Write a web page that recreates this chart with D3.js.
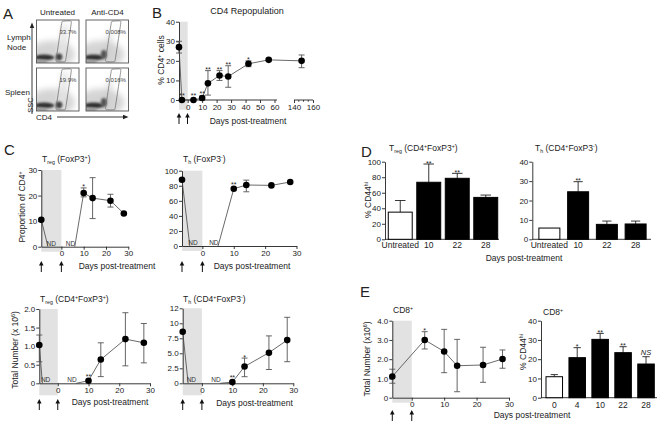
<!DOCTYPE html>
<html><head><meta charset="utf-8">
<script src="https://cdn.jsdelivr.net/npm/d3@7"></script>
<style>body{margin:0;background:#fff}svg{display:block}</style>
</head><body><svg id="c" width="661" height="424"></svg>
<script>
// ---------------- DATA ----------------
// Panel B: CD4 repopulation (% CD4+ cells)
const bDays = [-6, -4, 4, 10, 14, 22, 28, 42, 56, 148];
const bMean = [27, 0, 0, 1, 8.5, 12.5, 12, 18.5, 20.5, 20];
const bLo   = [24, 0, 0, 0, 2.5, 10, 6.5, 17, 20, 16.5];
const bHi   = [30, 0, 0, 2, 15, 15, 17.5, 20, 21, 23];
const bSig  = ["", "**", "**", "**", "**", "**", "**", "*", "", ""];
const bTicksA = [0, 10, 20, 30, 40, 50, 60];
const bTicksB = [140, 160];
const bYTicks = [0, 10, 20, 30, 40];

// Panel C: Treg proportion of CD4+
const cTregPDays = [-9, -6, 6, 10, 14, 22, 28];
const cTregPMean = [10.5, 0, 0, 21, 19, 18, 13];
const cTregPLo   = [10.5, 0, 0, 19.5, 11, 15.5, 13];
const cTregPHi   = [10.5, 0, 0, 23, 27, 20.5, 13];
const cTregPSig  = ["", "", "", "*", "", "", ""];
const cTregPND   = [false, true, true, false, false, false, false];
// Panel C: Th proportion of CD4+
const cThPDays = [-6.5, -4, 5, 10, 14, 22, 28];
const cThPMean = [88, 0, 0, 76, 81, 80.5, 85];
const cThPLo   = [88, 0, 0, 76, 72, 80.5, 85];
const cThPHi   = [88, 0, 0, 76, 87.5, 80.5, 85];
const cThPSig  = ["", "", "", "**", "", "", ""];
const cThPND   = [false, true, true, false, false, false, false];
// Panel C: Treg total number (x10^6)
const cTregNDays = [-6, -5, 6, 10, 14, 22, 28];
const cTregNMean = [1.03, 0, 0, 0.07, 0.64, 1.19, 1.09];
const cTregNLo   = [0.58, 0, 0, 0.07, 0.18, 0.47, 0.55];
const cTregNHi   = [1.3, 0, 0, 0.07, 1.09, 1.9, 1.61];
const cTregNSig  = ["", "", "", "**", "", "", ""];
const cTregNND   = [false, true, true, false, false, false, false];
// Panel C: Th total number (x10^6)
const cThNDays = [-6.3, -4.5, 6, 10, 14, 22, 28];
const cThNMean = [8.6, 0, 0, 0.2, 2.8, 5.1, 7.2];
const cThNLo   = [8.6, 0, 0, 0.2, 1.1, 2.3, 3.6];
const cThNHi   = [8.6, 0, 0, 0.2, 4.2, 7.9, 11];
const cThNSig  = ["", "", "", "**", "*", "", ""];
const cThNND   = [false, true, true, false, false, false, false];
const cXTicks = [0, 10, 20, 30];

// Panel D: % CD44hi
const dCats = ["Untreated", "10", "22", "28"];
const dTregMean = [35, 73.5, 78.6, 54];
const dTregErr  = [50, 97, 85, 57];
const dTregSig  = ["", "**", "**", ""];
const dThMean = [5.8, 24.5, 7.7, 7.9];
const dThErr  = [5.8, 29.7, 9.4, 9.4];
const dThSig  = ["", "**", "", ""];

// Panel E: CD8+
const eDays = [-6, 4, 10, 14, 22, 28];
const eMean = [1.1, 3.0, 2.4, 1.66, 1.7, 2.01];
const eLo   = [0.75, 2.53, 1.3, 0.31, 0.8, 1.53];
const eHi   = [1.48, 3.43, 3.55, 3.03, 2.62, 2.48];
const eSig  = ["", "*", "", "", "", ""];
const eND   = [false, false, false, false, false, false];
const eCats = ["0", "4", "10", "22", "28"];
const eBarMean = [10.9, 20.8, 30.3, 23.4, 17.5];
const eBarErr  = [12, 26, 33.4, 26.5, 21.3];
const eBarSig  = ["", "*", "**", "**", "NS"];

// Panel A: flow gates
const flowPct = ["33.7%", "0.008%", "19.9%", "0.016%"];

// ---------------- DRAW ----------------
const FONT = "'Liberation Sans', Arial, Helvetica, sans-serif";
const svg = d3.select("#c").attr("font-family", FONT);
const defs = svg.append("defs");
defs.append("filter").attr("id", "bl1").attr("x", "-50%").attr("y", "-50%").attr("width", "200%").attr("height", "200%")
  .append("feGaussianBlur").attr("stdDeviation", 1.2);
defs.append("filter").attr("id", "bl3").attr("x", "-50%").attr("y", "-50%").attr("width", "200%").attr("height", "200%")
  .append("feGaussianBlur").attr("stdDeviation", 3);

function rich(sel, parts, size) {
  let shift = 0;
  parts.forEach(([t, k]) => {
    const target = k === "sub" ? 2 : k === "sup" ? -3 : 0;
    sel.append("tspan").attr("dy", target - shift).attr("font-size", k ? size * 0.62 : size).text(t);
    shift = target;
  });
  return sel;
}
function label(x, y, parts, size, anchor, rot) {
  const t = svg.append("text").attr("fill", "#222").attr("text-anchor", anchor || "start");
  if (rot) t.attr("transform", `translate(${x},${y}) rotate(-90)`);
  else t.attr("x", x).attr("y", y);
  return rich(t, parts, size);
}
function styleAxis(g) {
  g.selectAll("path,line").attr("stroke", "#222").attr("stroke-width", 0.9);
  g.selectAll("text").attr("font-size", 8).attr("fill", "#222").attr("font-family", FONT);
}
function arrow(x, top, bottom) {
  svg.append("line").attr("x1", x).attr("x2", x).attr("y1", bottom).attr("y2", top + 3)
    .attr("stroke", "#111").attr("stroke-width", 1);
  svg.append("path").attr("d", `M${x - 2.3},${top + 4.5}L${x},${top}L${x + 2.3},${top + 4.5}Z`).attr("fill", "#111");
}

function points(g, x, y, days, mean, lo, hi, sig, nd) {
  for (let i = 0; i < days.length - 1; i++) {
    if (nd[i] && nd[i + 1]) continue;
    g.append("line").attr("x1", x(days[i])).attr("y1", y(mean[i])).attr("x2", x(days[i + 1])).attr("y2", y(mean[i + 1]))
      .attr("stroke", "#444").attr("stroke-width", 0.8);
  }
  days.forEach((d, i) => {
    if (nd[i]) return;
    const cx = x(d);
    if (hi[i] !== lo[i]) {
      g.append("line").attr("x1", cx).attr("x2", cx).attr("y1", y(lo[i])).attr("y2", y(hi[i])).attr("stroke", "#555").attr("stroke-width", 0.9);
      [lo[i], hi[i]].forEach(v => g.append("line").attr("x1", cx - 3).attr("x2", cx + 3).attr("y1", y(v)).attr("y2", y(v)).attr("stroke", "#555").attr("stroke-width", 0.9));
    }
    g.append("circle").attr("cx", cx).attr("cy", y(mean[i])).attr("r", 3.3).attr("fill", "#000");
    if (sig[i]) {
      const yy = Math.min(y(hi[i]), y(mean[i]) - 3.3) + 1.5;
      g.append("text").attr("x", cx).attr("y", yy).attr("text-anchor", "middle").attr("font-size", 7).attr("fill", "#222").text(sig[i]);
    }
  });
  let first = true;
  days.forEach((d, i) => {
    if (!nd[i]) return;
    g.append("text").attr("x", first ? x(d) - 1.5 : x(d) + 0.5).attr("y", y(0) - 1)
      .attr("text-anchor", first ? "start" : "end").attr("font-size", 6.5).attr("fill", "#333").text("ND");
    first = false;
  });
}

function lineChart(o) {
  const g = svg.append("g");
  const x = d3.scaleLinear().domain(o.xDomain).range(o.xRange);
  const y = d3.scaleLinear().domain(o.yDomain).range([o.yBottom, o.yTop]);
  g.append("rect").attr("x", x(o.xDomain[0])).attr("y", o.yTop).attr("width", x(0) - x(o.xDomain[0]))
    .attr("height", o.yBottom - o.yTop + o.below).attr("fill", "#e2e2e2");
  const ya = g.append("g").attr("transform", `translate(${o.xRange[0]},0)`)
    .call(d3.axisLeft(y).tickValues(o.yTicks).tickFormat((d, i) => o.yLabels[i]).tickSize(3).tickPadding(1).tickSizeOuter(0));
  styleAxis(ya);
  const xa = g.append("g").attr("transform", `translate(0,${o.yBottom})`)
    .call(d3.axisBottom(x).tickValues(cXTicks).tickSize(3).tickPadding(1).tickSizeOuter(0));
  styleAxis(xa);
  points(g, x, y, o.days, o.mean, o.lo, o.hi, o.sig, o.nd);
  arrow(x(o.xDomain[0]), o.arrowY[0], o.arrowY[1]);
  arrow(x(0), o.arrowY[0], o.arrowY[1]);
  label(o.titleX, o.titleY, o.title, 8.5);
  if (o.ylab) label(o.ylabX, o.ylabY, o.ylab, 8.5, "middle", true);
  label(o.xlabX, o.xlabY, [["Days post-treatment", ""]], 8.5, "middle");
}

function barChart(o) {
  const g = svg.append("g");
  const xb = d3.scaleBand().domain(o.cats).range(o.range).paddingInner(o.pad).paddingOuter(o.pad / 2);
  const y = d3.scaleLinear().domain(o.yDomain).range([o.yBottom, o.yTop]);
  const ya = g.append("g").attr("transform", `translate(${o.axisX},0)`)
    .call(d3.axisLeft(y).tickValues(o.yTicks).tickSize(3).tickPadding(1).tickSizeOuter(0));
  styleAxis(ya);
  g.append("line").attr("x1", o.axisX).attr("x2", o.axisEnd).attr("y1", o.yBottom).attr("y2", o.yBottom).attr("stroke", "#222").attr("stroke-width", 0.9);
  const bw = xb.bandwidth(), cap = bw * 0.22;
  o.cats.forEach((c, i) => {
    const bx = xb(c), cx = bx + bw / 2;
    if (o.err[i] > o.mean[i]) {
      g.append("line").attr("x1", cx).attr("x2", cx).attr("y1", y(o.mean[i])).attr("y2", y(o.err[i])).attr("stroke", "#222").attr("stroke-width", 0.9);
      g.append("line").attr("x1", cx - cap).attr("x2", cx + cap).attr("y1", y(o.err[i])).attr("y2", y(o.err[i])).attr("stroke", "#222").attr("stroke-width", 0.9);
    }
    g.append("rect").attr("x", bx).attr("y", y(o.mean[i])).attr("width", bw).attr("height", o.yBottom - y(o.mean[i]))
      .attr("fill", i === 0 ? "#fff" : "#000").attr("stroke", "#000").attr("stroke-width", 1);
    g.append("text").attr("x", cx).attr("y", o.labelY).attr("text-anchor", "middle").attr("font-size", 8.5).attr("fill", "#222").text(c);
    if (o.sig[i]) {
      const t = g.append("text").attr("x", cx).attr("y", y(o.err[i]) + (o.sig[i] === "NS" ? -2 : 1.5)).attr("text-anchor", "middle")
        .attr("font-size", 7).attr("fill", "#222").text(o.sig[i]);
      if (o.sig[i] === "NS") t.attr("font-style", "italic").attr("font-size", 7.5);
    }
  });
  label(o.titleX, o.titleY, o.title, 8.5);
  if (o.ylab) label(o.ylabX, o.ylabY, o.ylab, 8.5, "middle", true);
}

// ---------- Panel A ----------
function flow(x0, y0, w, h, treated, pct, id) {
  const g = svg.append("g").attr("transform", `translate(${x0},${y0})`);
  defs.append("clipPath").attr("id", id).append("rect").attr("width", w).attr("height", h);
  const inn = g.append("g").attr("clip-path", `url(#${id})`);
  inn.append("ellipse").attr("cx", w * 0.35).attr("cy", h * 0.8).attr("rx", w * 0.55).attr("ry", h * 0.32)
    .attr("fill", "#d4d4d4").attr("filter", "url(#bl3)");
  if (!treated) {
    inn.append("path").attr("d", `M${w * 0.48},${h}L${w * 0.6},${h * 0.1}L${w * 0.75},${h * 0.1}L${w * 0.68},${h}Z`)
      .attr("fill", "#e4e4e4").attr("filter", "url(#bl3)");
  } else {
    inn.append("path").attr("d", `M${w * 0.2},${h * 0.95}L${w * 0.45},${h * 0.75}L${w * 0.55},${h * 0.25}L${w * 0.6},${h * 0.3}L${w * 0.5},${h * 0.9}Z`)
      .attr("fill", "#c8c8c8").attr("filter", "url(#bl3)");
  }
  inn.append("ellipse").attr("cx", w * 0.18).attr("cy", h * 0.87).attr("rx", w * 0.24).attr("ry", h * 0.065)
    .attr("fill", "#333").attr("filter", "url(#bl1)");
  inn.append("ellipse").attr("cx", w * 0.1).attr("cy", h * 0.97).attr("rx", w * 0.18).attr("ry", h * 0.05)
    .attr("fill", "#999").attr("filter", "url(#bl1)");
  if (!treated) {
    inn.append("ellipse").attr("cx", w * 0.53).attr("cy", h * 0.86).attr("rx", w * 0.08).attr("ry", h * 0.08)
      .attr("fill", "#444").attr("filter", "url(#bl1)");
  } else {
    inn.append("ellipse").attr("cx", w * 0.42).attr("cy", h * 0.8).attr("rx", w * 0.07).attr("ry", h * 0.1)
      .attr("fill", "#555").attr("filter", "url(#bl1)");
  }
  const gate = [[0.6, 0.04], [0.8, 0.02], [0.82, 0.06], [0.68, 0.96], [0.48, 0.97], [0.46, 0.93]];
  g.append("path").attr("d", d3.line().curve(d3.curveCardinalClosed.tension(0.85))(gate.map(p => [p[0] * w, p[1] * h])))
    .attr("fill", "none").attr("stroke", "#666").attr("stroke-width", 0.7);
  g.append("rect").attr("width", w).attr("height", h).attr("fill", "none").attr("stroke", "#555").attr("stroke-width", 0.9);
  g.append("text").attr("x", w * 0.94).attr("y", h * 0.32).attr("text-anchor", "end").attr("font-size", 6).attr("fill", "#444").text(pct);
}
label(3, 19, [["A", ""]], 15);
label(57.5, 15, [["Untreated", ""]], 8, "middle");
label(107.5, 15, [["Anti-CD4", ""]], 8, "middle");
label(7, 40, [["Lymph", ""]], 8);
label(7, 50, [["Node", ""]], 8);
label(5, 95, [["Spleen", ""]], 8);
flow(36.5, 20, 42.5, 43, false, flowPct[0], "f1");
flow(86, 20, 42.5, 43, true, flowPct[1], "f2");
flow(36.5, 68, 42.5, 43, false, flowPct[2], "f3");
flow(86, 68, 42.5, 43, true, flowPct[3], "f4");
svg.append("line").attr("x1", 32).attr("x2", 32).attr("y1", 114).attr("y2", 27).attr("stroke", "#222").attr("stroke-width", 0.9);
svg.append("path").attr("d", "M29.8,28L32,22.5L34.2,28Z").attr("fill", "#222");
label(32.5, 105, [["SSC", ""]], 7.5, "middle", true);
label(36, 120, [["CD4", ""]], 8);
svg.append("line").attr("x1", 57).attr("x2", 124).attr("y1", 117).attr("y2", 117).attr("stroke", "#222").attr("stroke-width", 0.9);
svg.append("path").attr("d", "M123,114.8L128.5,117L123,119.2Z").attr("fill", "#222");

// ---------- Panel B ----------
(function () {
  const g = svg.append("g");
  const x = d3.scaleLinear().domain([-6, 60, 140, 160]).range([179, 274.5, 294, 313]);
  const y = d3.scaleLinear().domain([0, 40]).range([100, 21.7]);
  g.append("rect").attr("x", x(-6)).attr("y", 21.7).attr("width", x(0) - x(-6)).attr("height", 88).attr("fill", "#e2e2e2");
  const ya = g.append("g").attr("transform", "translate(179,0)")
    .call(d3.axisLeft(y).tickValues(bYTicks).tickSize(3).tickPadding(1).tickSizeOuter(0));
  styleAxis(ya);
  const xa1 = g.append("g").attr("transform", "translate(0,100)")
    .call(d3.axisBottom(x).tickValues(bTicksA).tickSize(3).tickPadding(1));
  xa1.select(".domain").remove();
  styleAxis(xa1);
  const xa2 = g.append("g").attr("transform", "translate(0,100)")
    .call(d3.axisBottom(x).tickValues(bTicksB).tickSize(3).tickPadding(1));
  xa2.select(".domain").remove();
  styleAxis(xa2);
  [145, 150, 155].forEach(v => g.append("line").attr("x1", x(v)).attr("x2", x(v)).attr("y1", 100).attr("y2", 101.8).attr("stroke", "#222").attr("stroke-width", 0.8));
  g.append("line").attr("x1", 179).attr("x2", 277).attr("y1", 100).attr("y2", 100).attr("stroke", "#222").attr("stroke-width", 0.9);
  g.append("line").attr("x1", x(140)).attr("x2", x(160)).attr("y1", 100).attr("y2", 100).attr("stroke", "#222").attr("stroke-width", 0.9);
  points(g, x, y, bDays, bMean, bLo, bHi, bSig, bDays.map(() => false));
  arrow(179, 113, 124);
  arrow(187.5, 113, 124);
  label(152, 18, [["B", ""]], 15);
  label(247, 14, [["CD4 Repopulation", ""]], 9, "middle");
  label(164, 60, [["% CD4", ""], ["+", "sup"], [" cells", ""]], 8.5, "middle", true);
  label(248, 124, [["Days post-treatment", ""]], 8.5, "middle");
})();

// ---------- Panel C ----------
label(4, 155, [["C", ""]], 15);
lineChart({ xDomain: [-9, 30], xRange: [41.3, 128.3], yDomain: [0, 30], yTop: 170, yBottom: 246.7, below: 5,
  yTicks: [0, 10, 20, 30], yLabels: ["0", "10", "20", "30"],
  days: cTregPDays, mean: cTregPMean, lo: cTregPLo, hi: cTregPHi, sig: cTregPSig, nd: cTregPND,
  arrowY: [261, 272], title: [["T", ""], ["reg", "sub"], [" (FoxP3", ""], ["+", "sup"], [")", ""]], titleX: 42, titleY: 162,
  ylab: [["Proportion of CD4", ""], ["+", "sup"]], ylabX: 25, ylabY: 207, xlabX: 117, xlabY: 269 });
lineChart({ xDomain: [-6.5, 30], xRange: [182, 296.5], yDomain: [0, 100], yTop: 170.7, yBottom: 246, below: 5,
  yTicks: [0, 20, 40, 60, 80, 100], yLabels: ["0", "20", "40", "60", "80", "100"],
  days: cThPDays, mean: cThPMean, lo: cThPLo, hi: cThPHi, sig: cThPSig, nd: cThPND,
  arrowY: [261, 272], title: [["T", ""], ["h", "sub"], [" (FoxP3", ""], ["-", "sup"], [")", ""]], titleX: 183, titleY: 162,
  xlabX: 252, xlabY: 269 });
lineChart({ xDomain: [-6, 30], xRange: [39.3, 150], yDomain: [0, 2], yTop: 309, yBottom: 383.3, below: 12,
  yTicks: [0, 0.5, 1, 1.5, 2], yLabels: ["0", "0.5", "1.0", "1.5", "2.0"],
  days: cTregNDays, mean: cTregNMean, lo: cTregNLo, hi: cTregNHi, sig: cTregNSig, nd: cTregNND,
  arrowY: [399, 410], title: [["T", ""], ["reg", "sub"], [" (CD4", ""], ["+", "sup"], ["FoxP3", ""], ["+", "sup"], [")", ""]], titleX: 40, titleY: 302,
  ylab: [["Total Number (x 10", ""], ["6", "sup"], [")", ""]], ylabX: 18, ylabY: 350, xlabX: 110, xlabY: 405 });
lineChart({ xDomain: [-6.3, 30], xRange: [182.7, 293.3], yDomain: [0, 12.5], yTop: 308.3, yBottom: 383.3, below: 12,
  yTicks: [0, 2.5, 5, 7.5, 10, 12.5], yLabels: ["0", "2.5", "5.0", "7.5", "10", "12"],
  days: cThNDays, mean: cThNMean, lo: cThNLo, hi: cThNHi, sig: cThNSig, nd: cThNND,
  arrowY: [399, 410], title: [["T", ""], ["h", "sub"], [" (CD4", ""], ["+", "sup"], ["FoxP3", ""], ["-", "sup"], [")", ""]], titleX: 183, titleY: 302,
  xlabX: 254.5, xlabY: 406 });

// ---------- Panel D ----------
label(361, 157, [["D", ""]], 15);
barChart({ cats: dCats, mean: dTregMean, err: dTregErr, sig: dTregSig, range: [386, 500], pad: 0.16,
  axisX: 385, axisEnd: 499, yDomain: [0, 100], yTop: 161.7, yBottom: 239.3, yTicks: [0, 20, 40, 60, 80, 100], labelY: 248,
  title: [["T", ""], ["reg", "sub"], [" (CD4", ""], ["+", "sup"], ["FoxP3", ""], ["+", "sup"], [")", ""]], titleX: 389, titleY: 151,
  ylab: [["% CD44", ""], ["hi", "sup"]], ylabX: 371, ylabY: 200 });
barChart({ cats: dCats, mean: dThMean, err: dThErr, sig: dThSig, range: [535, 650], pad: 0.27,
  axisX: 532.3, axisEnd: 651, yDomain: [0, 40], yTop: 161.7, yBottom: 239.3, yTicks: [0, 10, 20, 30, 40], labelY: 248,
  title: [["T", ""], ["h", "sub"], [" (CD4", ""], ["+", "sup"], ["FoxP3", ""], ["-", "sup"], [")", ""]], titleX: 535, titleY: 151 });
label(524, 261, [["Days post-treatment", ""]], 8.5, "middle");

// ---------- Panel E ----------
label(360, 297, [["E", ""]], 15);
lineChart({ xDomain: [-6, 30], xRange: [392.3, 509], yDomain: [0, 4], yTop: 320.7, yBottom: 397.7, below: 5,
  yTicks: [0, 1, 2, 3, 4], yLabels: ["0", "1.0", "2.0", "3.0", "4.0"],
  days: eDays, mean: eMean, lo: eLo, hi: eHi, sig: eSig, nd: eND,
  arrowY: [410, 421], title: [["CD8", ""], ["+", "sup"]], titleX: 393, titleY: 313,
  ylab: [["Total Number (x10", ""], ["6", "sup"], [")", ""]], ylabX: 370, ylabY: 359, xlabX: 532, xlabY: 418 });
barChart({ cats: eCats, mean: eBarMean, err: eBarErr, sig: eBarSig, range: [542.8, 657.5], pad: 0.28,
  axisX: 541, axisEnd: 657, yDomain: [0, 40], yTop: 320.7, yBottom: 397.7, yTicks: [0, 10, 20, 30, 40], labelY: 408,
  title: [["CD8", ""], ["+", "sup"]], titleX: 543, titleY: 315,
  ylab: [["% CD44", ""], ["hi", "sup"]], ylabX: 526, ylabY: 352 });
</script></body></html>
